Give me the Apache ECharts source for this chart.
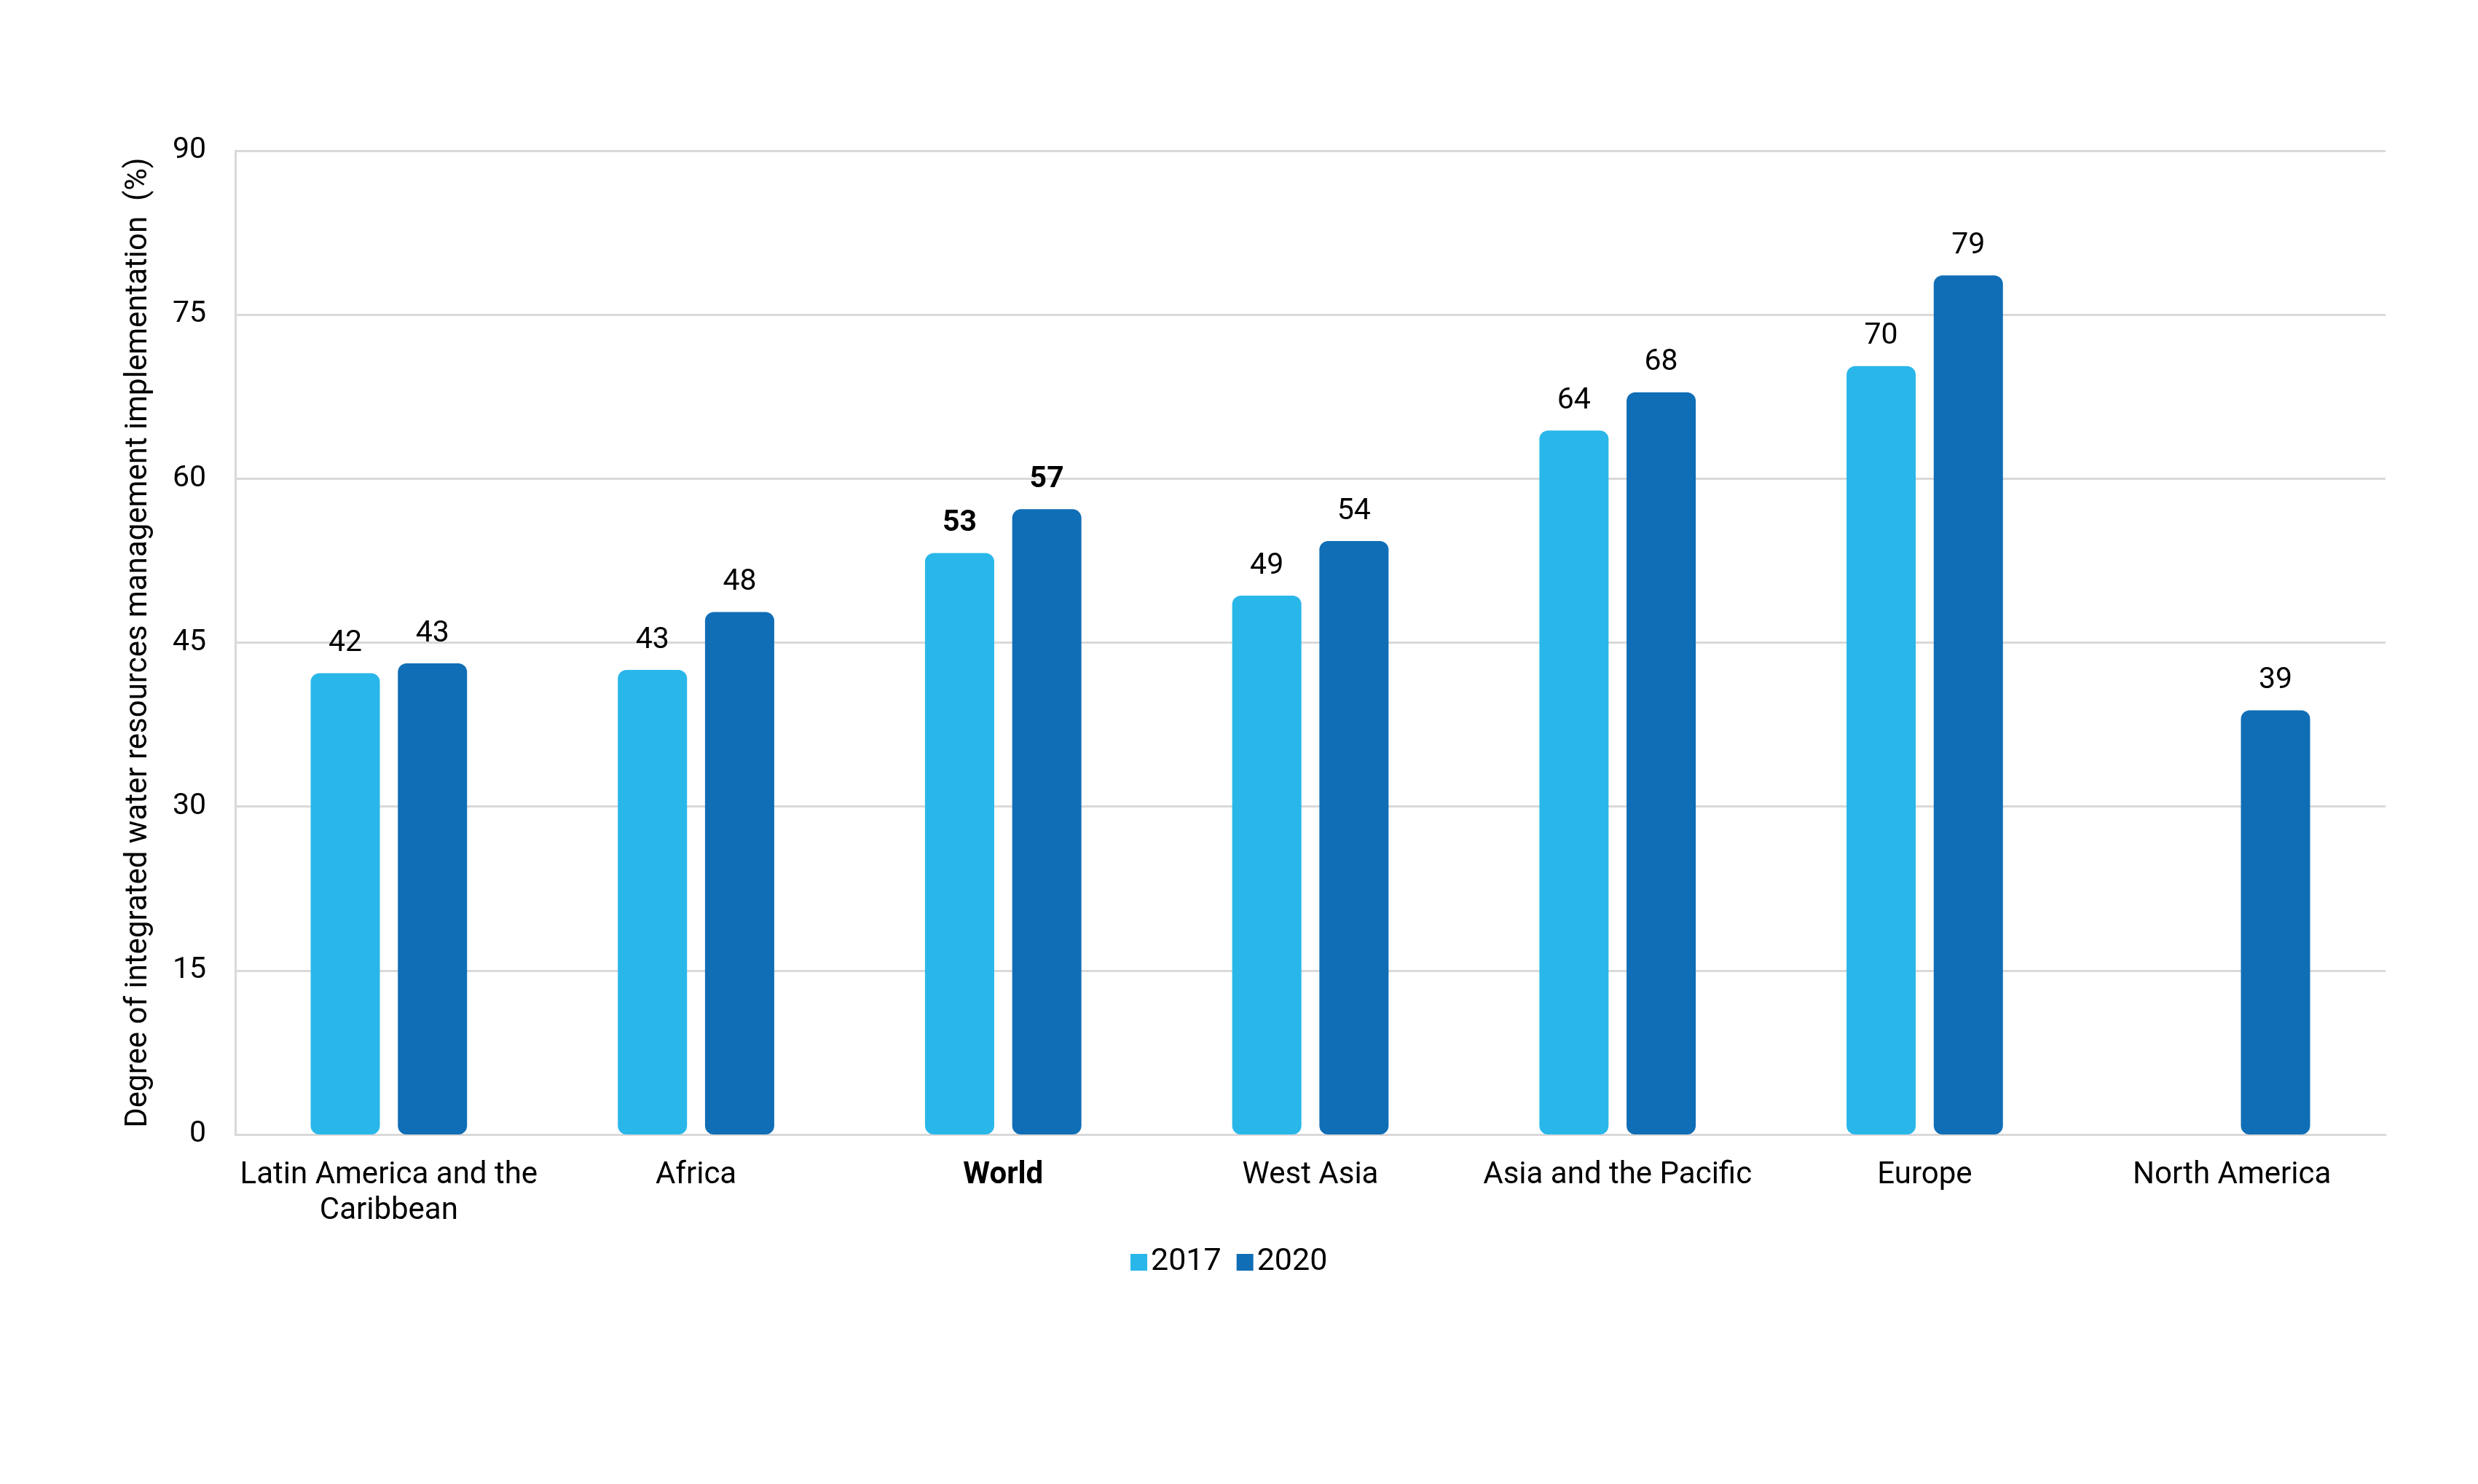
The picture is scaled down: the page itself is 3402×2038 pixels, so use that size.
<!DOCTYPE html>
<html>
<head>
<meta charset="utf-8">
<script src="https://cdn.jsdelivr.net/npm/echarts@6/dist/echarts.min.js"></script>
<style>
html,body{margin:0;padding:0;background:#fff;}
#chart{width:3402px;height:2038px;}
</style>
</head>
<body>
<div id="chart"></div>
<script>
const categories = ['Latin America and the Caribbean', 'Africa', 'World', 'West Asia', 'Asia and the Pacific', 'Europe', 'North America'];
const seriesNames = ['2017', '2020'];
const values2017 = [42.2, 42.5, 53.2, 49.3, 64.4, 70.3, null];
const values2020 = [43.1, 47.8, 57.2, 54.3, 67.9, 78.6, 38.8];
const yTicks = [0, 15, 30, 45, 60, 75, 90];
const highlightCategory = 'World';
const yAxisTitle = 'Degree of integrated water resources management implementation  (%)';

const FONT = 'Roboto';
const FS = 41;
const FS2 = 42;
const colors = ['#29B7EA', '#106EB6'];

function buildData(arr) {
  return arr.map((v, i) => {
    if (v === null) return '-';
    const item = { value: v };
    if (categories[i] === highlightCategory) item.label = { fontWeight: 'bold' };
    return item;
  });
}

const chart = echarts.init(document.getElementById('chart'), null, { renderer: 'canvas' });
const barCommon = {
  type: 'bar',
  barWidth: 95,
  barGap: '26%',
  label: {
    show: true,
    position: 'top',
    distance: 20,
    fontFamily: FONT,
    fontSize: FS,
    color: '#000',
    formatter: p => Math.round(p.value)
  }
};

chart.setOption({
  animation: false,
  backgroundColor: '#fff',
  textStyle: { fontFamily: FONT },
  grid: { left: 323, right: 127, top: 207, bottom: 480, containLabel: false },
  legend: {
    data: seriesNames,
    left: 1547,
    top: 1707,
    icon: 'rect',
    itemWidth: 23,
    itemHeight: 23,
    itemGap: 21,
    textStyle: { fontFamily: FONT, fontSize: 43, color: '#000', padding: [0, 0, 0, 0] }
  },
  xAxis: {
    type: 'category',
    data: categories,
    offset: 8,
    axisLine: { show: true, lineStyle: { color: '#d9d9d9', width: 3 } },
    axisTick: { show: false },
    axisLabel: {
      margin: 24,
      fontFamily: FONT,
      fontSize: FS2,
      color: '#000',
      lineHeight: 49,
      interval: 0,
      formatter: function (v) {
        const t = v.replace(' the Caribbean', ' the\nCaribbean');
        return v === highlightCategory ? '{b|' + t + '}' : t;
      },
      rich: { b: { fontFamily: FONT, fontSize: FS2, fontWeight: 'bold', color: '#000', lineHeight: 49 } }
    }
  },
  yAxis: {
    type: 'value',
    min: yTicks[0],
    max: yTicks[yTicks.length - 1],
    interval: yTicks[1] - yTicks[0],
    name: yAxisTitle,
    nameLocation: 'middle',
    nameGap: 112,
    nameRotate: 90,
    nameTextStyle: { fontFamily: FONT, fontSize: FS2, color: '#000' },
    axisLine: { show: true, lineStyle: { color: '#d9d9d9', width: 3 } },
    axisTick: { show: false },
    axisLabel: { margin: 40, fontFamily: FONT, fontSize: FS, color: '#000' },
    splitLine: { show: true, showMinLine: false, lineStyle: { color: '#d9d9d9', width: 3 } }
  },
  series: [
    Object.assign({}, barCommon, { name: seriesNames[0], data: buildData(values2017), itemStyle: { color: colors[0], borderRadius: 12 } }),
    Object.assign({}, barCommon, { name: seriesNames[1], data: buildData(values2020), itemStyle: { color: colors[1], borderRadius: 12 } })
  ]
});
</script>
</body>
</html>
